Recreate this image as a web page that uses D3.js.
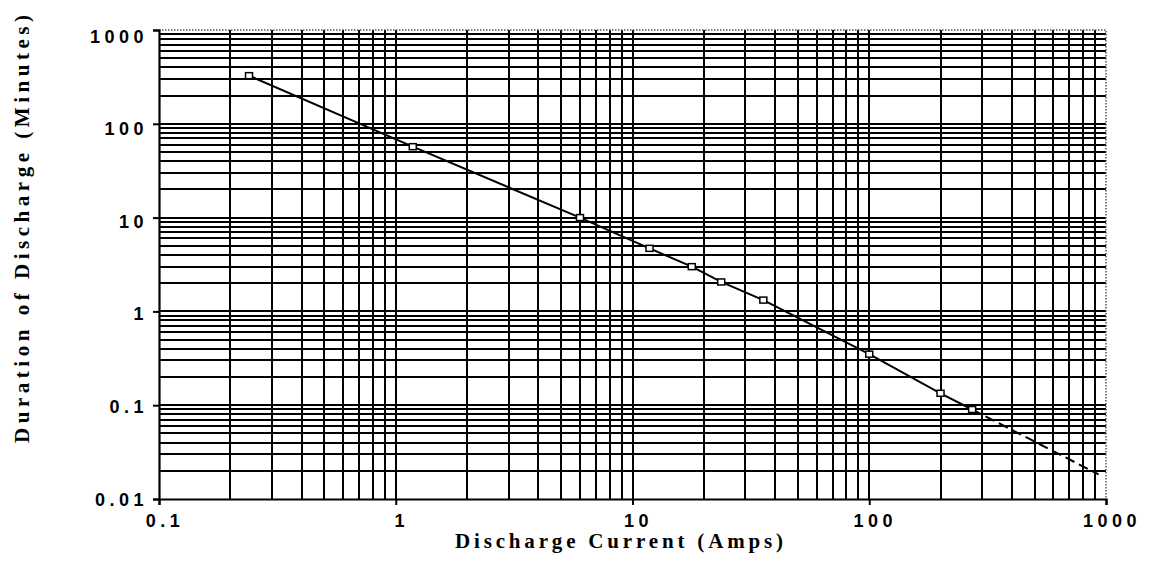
<!DOCTYPE html>
<html>
<head>
<meta charset="utf-8">
<script src="https://cdn.jsdelivr.net/npm/d3@7"></script>
<style>
  html, body { margin: 0; padding: 0; background: #fff; }
  svg { display: block; }
</style>
</head>
<body>
<svg id="chart" width="1158" height="563"></svg>
<script>
// Discharge current (A) against duration of discharge (min), log-log
const currentAmps = [0.24, 1.18, 6.0, 11.8, 17.8, 23.7, 35.7, 100, 200, 272];
const durationMin = [326, 57, 10, 4.7, 3.0, 2.06, 1.32, 0.35, 0.134, 0.090];
// Extrapolated tail beyond the last measured point
const tailAmps = [272, 930];
const tailMin = [0.090, 0.0183];

const xTickValues = [0.1, 1, 10, 100, 1000];
const xTickLabels = ["0.1", "1", "10", "100", "1000"];
const yTickValues = [0.01, 0.1, 1, 10, 100, 1000];
const yTickLabels = ["0.01", "0.1", "1", "10", "100", "1000"];

const xTitle = "Discharge Current (Amps)";
const yTitle = "Duration of Discharge (Minutes)";

const svg = d3.select("#chart");
const x = d3.scaleLog().domain([0.1, 1000]).range([159, 1106]);
const y = d3.scaleLog().domain([0.01, 1000]).range([499, 30]);

// every 1..9 multiple inside the domain
function gridValues(lo, hi) {
  const out = [];
  for (let e = Math.round(Math.log10(lo)); e < Math.round(Math.log10(hi)); e++) {
    for (let m = 1; m <= 9; m++) out.push(m * Math.pow(10, e));
  }
  return out;
}

const grid = svg.append("g").attr("shape-rendering", "crispEdges");
grid.selectAll("line.h")
  .data(gridValues(0.01, 1000).filter(v => v > 0.0100001))
  .join("line")
  .attr("x1", x.range()[0]).attr("x2", x.range()[1])
  .attr("y1", d => y(d)).attr("y2", d => y(d))
  .attr("stroke", "#000").attr("stroke-width", 2);
grid.selectAll("line.v")
  .data(gridValues(0.1, 1000).filter(v => v > 0.1000001))
  .join("line")
  .attr("x1", d => x(d)).attr("x2", d => x(d))
  .attr("y1", y.range()[0]).attr("y2", y.range()[1])
  .attr("stroke", "#000").attr("stroke-width", 2);

// dotted top and right frame
svg.append("path")
  .attr("d", `M${x.range()[0]},${y.range()[1]}H${x.range()[1]}V${y.range()[0]}`)
  .attr("fill", "none").attr("stroke", "#555").attr("stroke-width", 1.5)
  .attr("stroke-dasharray", "1.5,1.5");

// axes
const xAxis = d3.axisBottom(x).tickValues(xTickValues).tickSize(6).tickFormat("");
const yAxis = d3.axisLeft(y).tickValues(yTickValues).tickSize(6).tickFormat("");
const gx = svg.append("g").attr("transform", `translate(0,${y.range()[0]})`).call(xAxis);
const gy = svg.append("g").attr("transform", `translate(${x.range()[0]},0)`).call(yAxis);
[gx, gy].forEach(g => {
  g.select(".domain").attr("stroke", "#000").attr("stroke-width", 2.2);
  g.selectAll(".tick line").attr("stroke", "#000").attr("stroke-width", 2);
});

const tickFont = "'Liberation Sans', Arial, sans-serif";
svg.append("g").selectAll("text")
  .data(xTickValues)
  .join("text")
  .attr("x", d => x(d) + 6)
  .attr("y", 527)
  .attr("text-anchor", "middle")
  .attr("font-family", tickFont).attr("font-weight", "bold")
  .attr("font-size", 18).attr("letter-spacing", 4.5)
  .text((d, i) => xTickLabels[i]);

svg.append("g").selectAll("text")
  .data(yTickValues)
  .join("text")
  .attr("x", 148)
  .attr("y", d => y(d) + 6.5 + (Math.log10(d) + 2) * 1.2)
  .attr("text-anchor", "end")
  .attr("font-family", tickFont).attr("font-weight", "bold")
  .attr("font-size", 18).attr("letter-spacing", 4.5)
  .text((d, i) => yTickLabels[i]);

// titles
const titleFont = "'Liberation Serif', 'Times New Roman', serif";
svg.append("text")
  .attr("x", 455).attr("y", 548)
  .attr("font-family", titleFont).attr("font-weight", "bold").attr("font-size", 21)
  .attr("textLength", 328).attr("lengthAdjust", "spacing")
  .text(xTitle);
svg.append("text")
  .attr("transform", "translate(29,443) rotate(-90)")
  .attr("font-family", titleFont).attr("font-weight", "bold").attr("font-size", 21)
  .attr("textLength", 428).attr("lengthAdjust", "spacing")
  .text(yTitle);

// series
const pts = currentAmps.map((c, i) => [c, durationMin[i]]);
const line = d3.line().x(d => x(d[0])).y(d => y(d[1]));
svg.append("path")
  .datum(pts)
  .attr("d", line)
  .attr("fill", "none").attr("stroke", "#000").attr("stroke-width", 2);
svg.append("path")
  .datum(tailAmps.map((c, i) => [c, tailMin[i]]))
  .attr("d", line)
  .attr("fill", "none").attr("stroke", "#000").attr("stroke-width", 2)
  .attr("stroke-dasharray", "10,5");
svg.append("g").selectAll("rect")
  .data(pts)
  .join("rect")
  .attr("x", d => x(d[0]) - 3.5).attr("y", d => y(d[1]) - 3)
  .attr("width", 7).attr("height", 6)
  .attr("fill", "#fff").attr("stroke", "#000").attr("stroke-width", 1.5);
</script>
</body>
</html>
